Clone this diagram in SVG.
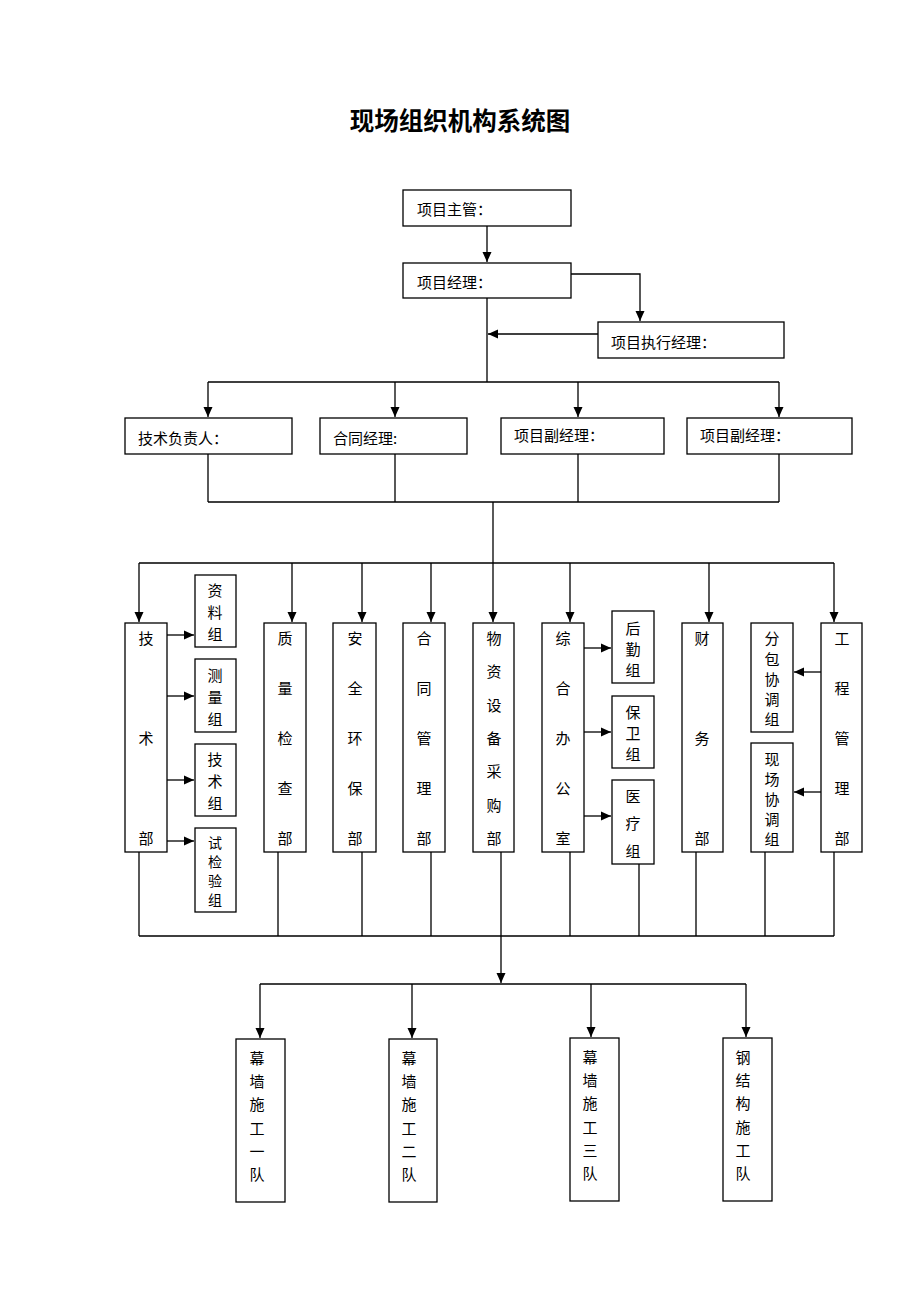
<svg xmlns="http://www.w3.org/2000/svg" width="920" height="1302" viewBox="0 0 920 1302">
<style>
.b{fill:#fff;stroke:#000;stroke-width:1.3}
.t{font-family:"Noto Sans CJK SC","Noto Sans",sans-serif;font-size:15px;fill:#000;dominant-baseline:central}
.c{text-anchor:middle}
.l{fill:none;stroke:#000;stroke-width:1.3}
.a{fill:none;stroke:#000;stroke-width:1.3;marker-end:url(#ah)}
</style>
<defs>
<marker id="ah" markerUnits="userSpaceOnUse" markerWidth="10" markerHeight="10" refX="10" refY="5" orient="auto">
<path d="M0,0.5 L10,5 L0,9.5 z" fill="#000"/>
</marker>
</defs>
<rect width="920" height="1302" fill="#fff"/>
<text x="460" y="119" text-anchor="middle" style="font-family:'Noto Sans CJK SC',sans-serif;font-size:24.5px;font-weight:bold;dominant-baseline:central">现场组织机构系统图</text>

<g id="connectors">
<path class="a" d="M487,226 V262"/>
<path class="a" d="M571,274 H640 V321"/>
<path class="a" d="M598,334 H488"/>
<path class="l" d="M487,298 V382 M208,382 H779"/>
<path class="a" d="M208,382 V417"/>
<path class="a" d="M395,382 V417"/>
<path class="a" d="M578,382 V417"/>
<path class="a" d="M779,382 V417"/>
<path class="l" d="M208,454 V502 M395,454 V502 M578,454 V502 M779,454 V502 M208,502 H779 M139,563 H834"/>
<path class="a" d="M493,502 V622"/>
<path class="a" d="M139,563 V622"/>
<path class="a" d="M292,563 V622"/>
<path class="a" d="M362,563 V622"/>
<path class="a" d="M431,563 V622"/>
<path class="a" d="M570,563 V622"/>
<path class="a" d="M709,563 V622"/>
<path class="a" d="M834,563 V622"/>
<path class="a" d="M167,635 H194"/>
<path class="a" d="M167,696 H194"/>
<path class="a" d="M167,780 H194"/>
<path class="a" d="M167,841 H194"/>
<path class="a" d="M584,648 H611"/>
<path class="a" d="M584,732 H611"/>
<path class="a" d="M584,816 H611"/>
<path class="a" d="M821,672 H794"/>
<path class="a" d="M821,792 H794"/>
<path class="l" d="M139,852 V936 M278,852 V936 M362,852 V936 M431,852 V936 M501,852 V936 M570,852 V936 M639,864 V936 M696,852 V936 M765,852 V936 M834,852 V936 M139,936 H834"/>
<path class="a" d="M501,936 V983"/>
<path class="l" d="M260,984 H746"/>
<path class="a" d="M260,984 V1038"/>
<path class="a" d="M412,984 V1038"/>
<path class="a" d="M591,984 V1037"/>
<path class="a" d="M746,984 V1037"/>
</g>

<g id="n-zhuguan"><rect class="b" x="403" y="190" width="168" height="36"/><text class="t" x="417" y="208">项目主管：</text></g>
<g id="n-jingli"><rect class="b" x="403" y="263" width="168" height="35"/><text class="t" x="417" y="281">项目经理：</text></g>
<g id="n-zhixing"><rect class="b" x="598" y="322" width="186" height="36"/><text class="t" x="611" y="341">项目执行经理：</text></g>

<g id="n-jishufuze"><rect class="b" x="125" y="418" width="167" height="36"/><text class="t" x="138" y="437">技术负责人：</text></g>
<g id="n-hetongjingli"><rect class="b" x="320" y="418" width="147" height="36"/><text class="t" x="333" y="437">合同经理:</text></g>
<g id="n-fujingli1"><rect class="b" x="501" y="418" width="163" height="36"/><text class="t" x="514" y="434">项目副经理：</text></g>
<g id="n-fujingli2"><rect class="b" x="687" y="418" width="165" height="36"/><text class="t" x="700" y="434">项目副经理：</text></g>

<g id="n-jishubu"><rect class="b" x="125" y="623" width="42" height="229"/><text class="t c" x="146"><tspan x="146" y="637">技</tspan><tspan x="146" y="737">术</tspan><tspan x="146" y="837">部</tspan></text></g>
<g id="n-ziliao"><rect class="b" x="195" y="575" width="41" height="72"/><text class="t c"><tspan x="215" y="589">资</tspan><tspan x="215" y="611">料</tspan><tspan x="215" y="633">组</tspan></text></g>
<g id="n-celiang"><rect class="b" x="195" y="659" width="41" height="73"/><text class="t c"><tspan x="215" y="674">测</tspan><tspan x="215" y="696">量</tspan><tspan x="215" y="718">组</tspan></text></g>
<g id="n-jishuzu"><rect class="b" x="195" y="744" width="41" height="72"/><text class="t c"><tspan x="215" y="758">技</tspan><tspan x="215" y="780">术</tspan><tspan x="215" y="802">组</tspan></text></g>
<g id="n-shijian"><rect class="b" x="195" y="828" width="41" height="84"/><text class="t c" style="font-size:14px"><tspan x="215" y="842">试</tspan><tspan x="215" y="861">检</tspan><tspan x="215" y="880">验</tspan><tspan x="215" y="899">组</tspan></text></g>

<g id="n-zhiliang"><rect class="b" x="264" y="623" width="42" height="229"/><text class="t c"><tspan x="285" y="637">质</tspan><tspan x="285" y="687">量</tspan><tspan x="285" y="737">检</tspan><tspan x="285" y="787">查</tspan><tspan x="285" y="837">部</tspan></text></g>
<g id="n-anquan"><rect class="b" x="333" y="623" width="43" height="229"/><text class="t c"><tspan x="355" y="637">安</tspan><tspan x="355" y="687">全</tspan><tspan x="355" y="737">环</tspan><tspan x="355" y="787">保</tspan><tspan x="355" y="837">部</tspan></text></g>
<g id="n-hetongbu"><rect class="b" x="403" y="623" width="42" height="229"/><text class="t c"><tspan x="424" y="637">合</tspan><tspan x="424" y="687">同</tspan><tspan x="424" y="737">管</tspan><tspan x="424" y="787">理</tspan><tspan x="424" y="837">部</tspan></text></g>
<g id="n-wuzi"><rect class="b" x="473" y="623" width="41" height="229"/><text class="t c"><tspan x="494" y="637">物</tspan><tspan x="494" y="670">资</tspan><tspan x="494" y="704">设</tspan><tspan x="494" y="737">备</tspan><tspan x="494" y="770">采</tspan><tspan x="494" y="804">购</tspan><tspan x="494" y="837">部</tspan></text></g>
<g id="n-zonghe"><rect class="b" x="542" y="623" width="42" height="229"/><text class="t c"><tspan x="563" y="637">综</tspan><tspan x="563" y="687">合</tspan><tspan x="563" y="737">办</tspan><tspan x="563" y="787">公</tspan><tspan x="563" y="837">室</tspan></text></g>
<g id="n-houqin"><rect class="b" x="612" y="611" width="42" height="72"/><text class="t c"><tspan x="633" y="627">后</tspan><tspan x="633" y="648">勤</tspan><tspan x="633" y="669">组</tspan></text></g>
<g id="n-baowei"><rect class="b" x="612" y="696" width="42" height="72"/><text class="t c"><tspan x="633" y="711">保</tspan><tspan x="633" y="732">卫</tspan><tspan x="633" y="753">组</tspan></text></g>
<g id="n-yiliao"><rect class="b" x="612" y="780" width="42" height="84"/><text class="t c"><tspan x="633" y="795">医</tspan><tspan x="633" y="822">疗</tspan><tspan x="633" y="850">组</tspan></text></g>
<g id="n-caiwu"><rect class="b" x="682" y="623" width="41" height="229"/><text class="t c"><tspan x="702" y="637">财</tspan><tspan x="702" y="737">务</tspan><tspan x="702" y="837">部</tspan></text></g>
<g id="n-fenbao"><rect class="b" x="751" y="623" width="42" height="109"/><text class="t c"><tspan x="772" y="637">分</tspan><tspan x="772" y="658">包</tspan><tspan x="772" y="678">协</tspan><tspan x="772" y="698">调</tspan><tspan x="772" y="718">组</tspan></text></g>
<g id="n-xianchang"><rect class="b" x="751" y="743" width="42" height="109"/><text class="t c"><tspan x="772" y="758">现</tspan><tspan x="772" y="778">场</tspan><tspan x="772" y="798">协</tspan><tspan x="772" y="818">调</tspan><tspan x="772" y="838">组</tspan></text></g>
<g id="n-gongcheng"><rect class="b" x="821" y="623" width="41" height="229"/><text class="t c"><tspan x="842" y="637">工</tspan><tspan x="842" y="687">程</tspan><tspan x="842" y="737">管</tspan><tspan x="842" y="787">理</tspan><tspan x="842" y="837">部</tspan></text></g>

<g id="n-dui1"><rect class="b" x="236" y="1039" width="49" height="163"/><text class="t c"><tspan x="257" y="1057">幕</tspan><tspan x="257" y="1080">墙</tspan><tspan x="257" y="1103">施</tspan><tspan x="257" y="1127">工</tspan><tspan x="257" y="1150">一</tspan><tspan x="257" y="1173">队</tspan></text></g>
<g id="n-dui2"><rect class="b" x="389" y="1039" width="48" height="163"/><text class="t c"><tspan x="409" y="1057">幕</tspan><tspan x="409" y="1080">墙</tspan><tspan x="409" y="1103">施</tspan><tspan x="409" y="1127">工</tspan><tspan x="409" y="1150">二</tspan><tspan x="409" y="1173">队</tspan></text></g>
<g id="n-dui3"><rect class="b" x="570" y="1038" width="49" height="163"/><text class="t c"><tspan x="590" y="1056">幕</tspan><tspan x="590" y="1079">墙</tspan><tspan x="590" y="1102">施</tspan><tspan x="590" y="1126">工</tspan><tspan x="590" y="1149">三</tspan><tspan x="590" y="1172">队</tspan></text></g>
<g id="n-dui4"><rect class="b" x="723" y="1038" width="49" height="163"/><text class="t c"><tspan x="743" y="1056">钢</tspan><tspan x="743" y="1079">结</tspan><tspan x="743" y="1102">构</tspan><tspan x="743" y="1126">施</tspan><tspan x="743" y="1149">工</tspan><tspan x="743" y="1172">队</tspan></text></g>
</svg>
